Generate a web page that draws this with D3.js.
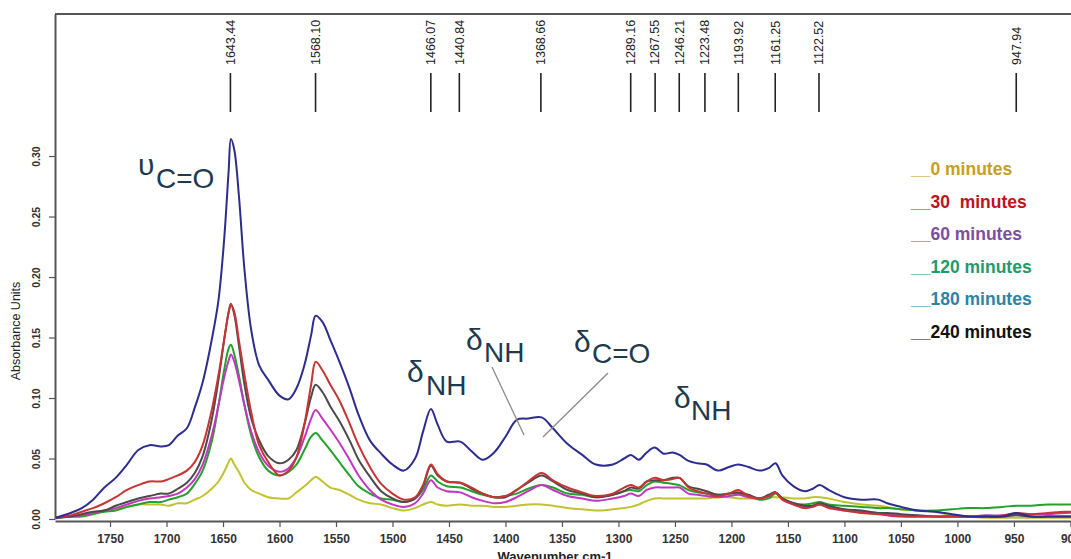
<!DOCTYPE html>
<html>
<head>
<meta charset="utf-8">
<script src="https://cdn.jsdelivr.net/npm/d3@7"></script>
<style>
  body { margin: 0; background: #fff; }
  svg { display: block; font-family: "Liberation Sans", Arial, sans-serif; }
</style>
</head>
<body>
<div id="chart"></div>
<script>
// wavenumber grid (cm-1) shared by every spectrum
var wavenumbers = [1798,1785,1775,1765,1755,1745,1735,1725,1715,1705,1698,1690,1682,1675,1668,1660,1654,1649,1645,1643,1640,1636,1631,1625,1618,1610,1600,1592,1585,1578,1572,1568,1562,1555,1547,1538,1530,1520,1510,1500,1490,1480,1473,1466,1460,1452,1440,1430,1420,1410,1400,1390,1380,1368,1358,1345,1332,1320,1305,1295,1289,1282,1275,1268,1260,1252,1246,1238,1230,1222,1212,1202,1194,1185,1175,1167,1161,1155,1145,1135,1128,1122,1114,1100,1085,1070,1062,1050,1035,1020,1005,990,975,960,948,935,920,905,890];

var blueVals = [0.001,0.005,0.009,0.016,0.026,0.034,0.045,0.057,0.061,0.060,0.061,0.069,0.075,0.092,0.113,0.148,0.181,0.231,0.288,0.314,0.305,0.268,0.206,0.156,0.127,0.115,0.102,0.099,0.108,0.127,0.152,0.168,0.163,0.148,0.130,0.108,0.086,0.065,0.054,0.045,0.040,0.050,0.072,0.091,0.078,0.064,0.064,0.056,0.049,0.055,0.068,0.082,0.083,0.084,0.075,0.062,0.053,0.045,0.045,0.050,0.053,0.049,0.055,0.059,0.054,0.055,0.053,0.048,0.046,0.045,0.040,0.043,0.045,0.043,0.040,0.042,0.046,0.036,0.027,0.023,0.025,0.028,0.024,0.018,0.016,0.016,0.013,0.010,0.007,0.006,0.004,0.002,0.002,0.002,0.005,0.002,0.002,0.002,0.002];
var redVals = [0.001,0.003,0.006,0.009,0.013,0.018,0.024,0.028,0.031,0.031,0.033,0.036,0.040,0.047,0.061,0.090,0.119,0.148,0.171,0.177,0.171,0.148,0.119,0.088,0.061,0.047,0.036,0.040,0.051,0.078,0.111,0.130,0.123,0.111,0.098,0.079,0.061,0.043,0.029,0.021,0.016,0.018,0.028,0.045,0.037,0.031,0.030,0.026,0.021,0.018,0.019,0.024,0.031,0.038,0.032,0.026,0.022,0.019,0.021,0.026,0.028,0.026,0.031,0.034,0.032,0.033,0.034,0.026,0.023,0.021,0.019,0.021,0.024,0.019,0.017,0.019,0.022,0.016,0.012,0.009,0.010,0.012,0.009,0.007,0.005,0.004,0.003,0.002,0.002,0.002,0.002,0.002,0.002,0.003,0.005,0.004,0.005,0.006,0.006];
var grayVals = [0.001,0.002,0.004,0.006,0.007,0.011,0.014,0.017,0.019,0.021,0.021,0.025,0.030,0.038,0.052,0.082,0.115,0.148,0.171,0.178,0.169,0.144,0.111,0.083,0.065,0.052,0.046,0.049,0.057,0.078,0.101,0.111,0.105,0.093,0.081,0.065,0.049,0.035,0.023,0.017,0.014,0.017,0.027,0.044,0.036,0.031,0.030,0.025,0.021,0.018,0.018,0.024,0.030,0.036,0.031,0.024,0.021,0.018,0.020,0.023,0.026,0.025,0.031,0.032,0.032,0.034,0.034,0.027,0.025,0.023,0.020,0.021,0.022,0.020,0.017,0.020,0.022,0.017,0.013,0.011,0.011,0.013,0.011,0.008,0.007,0.005,0.005,0.004,0.003,0.002,0.002,0.002,0.002,0.002,0.003,0.002,0.002,0.002,0.002];
var magentaVals = [0.001,0.002,0.003,0.005,0.007,0.009,0.012,0.015,0.017,0.018,0.019,0.021,0.026,0.033,0.045,0.069,0.094,0.117,0.131,0.136,0.130,0.115,0.094,0.072,0.055,0.044,0.039,0.042,0.051,0.067,0.083,0.090,0.083,0.074,0.063,0.049,0.036,0.024,0.016,0.012,0.010,0.013,0.021,0.032,0.026,0.023,0.022,0.018,0.015,0.013,0.014,0.018,0.023,0.028,0.024,0.019,0.017,0.015,0.017,0.019,0.021,0.019,0.024,0.026,0.026,0.026,0.026,0.021,0.020,0.019,0.018,0.019,0.020,0.018,0.017,0.019,0.022,0.017,0.012,0.010,0.011,0.012,0.010,0.007,0.006,0.005,0.004,0.003,0.002,0.002,0.002,0.002,0.003,0.003,0.004,0.004,0.004,0.005,0.005];
var greenVals = [0.001,0.002,0.002,0.004,0.006,0.007,0.010,0.012,0.014,0.014,0.016,0.018,0.021,0.029,0.040,0.064,0.094,0.123,0.141,0.144,0.136,0.119,0.094,0.069,0.051,0.040,0.036,0.039,0.045,0.057,0.068,0.071,0.065,0.057,0.047,0.036,0.027,0.021,0.017,0.016,0.014,0.017,0.024,0.036,0.031,0.027,0.026,0.023,0.020,0.018,0.019,0.021,0.025,0.028,0.026,0.021,0.020,0.018,0.020,0.023,0.024,0.023,0.028,0.031,0.030,0.029,0.028,0.024,0.022,0.021,0.020,0.021,0.021,0.019,0.016,0.017,0.021,0.017,0.013,0.012,0.013,0.014,0.012,0.011,0.010,0.009,0.009,0.008,0.007,0.007,0.008,0.009,0.009,0.010,0.011,0.011,0.012,0.012,0.012];
var yellowVals = [0.001,0.002,0.003,0.005,0.007,0.008,0.010,0.012,0.012,0.012,0.011,0.013,0.013,0.016,0.019,0.025,0.031,0.039,0.047,0.050,0.045,0.039,0.030,0.024,0.021,0.018,0.017,0.017,0.022,0.027,0.032,0.035,0.031,0.026,0.024,0.020,0.016,0.013,0.012,0.009,0.007,0.009,0.012,0.014,0.012,0.011,0.012,0.011,0.011,0.010,0.010,0.011,0.012,0.012,0.011,0.009,0.008,0.007,0.008,0.009,0.010,0.012,0.015,0.017,0.017,0.017,0.017,0.017,0.017,0.017,0.018,0.018,0.017,0.017,0.017,0.018,0.018,0.018,0.017,0.017,0.018,0.018,0.017,0.014,0.012,0.011,0.010,0.008,0.007,0.006,0.003,0.002,0.001,0.001,0.001,0.001,0.001,0.001,0.001];

var seriesColors = ["#c2c22e", "#22a22a", "#c236c2", "#4a4a4a", "#c83434", "#2d2d8e"];
var seriesVals = [yellowVals, greenVals, magentaVals, grayVals, redVals, blueVals];

var legendLabels = ["__0 minutes", "__30  minutes", "__60 minutes", "__120 minutes", "__180 minutes", "__240 minutes"];
var legendColors = ["#c4a024", "#c0121e", "#7d4f9e", "#1f9a6a", "#2a84a6", "#111111"];

var peakLabels = ["1643.44","1568.10","1466.07","1440.84","1368.66","1289.16","1267.55","1246.21","1223.48","1193.92","1161.25","1122.52","947.94"];
var xTicks = [1750,1700,1650,1600,1550,1500,1450,1400,1350,1300,1250,1200,1150,1100,1050,1000,950,900];
var yTicks = [0, 0.05, 0.10, 0.15, 0.20, 0.25, 0.30];

var W = 1071, H = 559;
var plotL = 55, plotT = 14, plotB = 519, plotR = 1093;

var svg = d3.select("#chart").append("svg")
    .attr("width", W)
    .attr("height", H);

var x = d3.scaleLinear().domain([1798.7, 880]).range([plotL, plotR]);
var y = d3.scaleLinear().domain([0, 0.4174]).range([plotB, plotT]);

svg.append("clipPath").attr("id", "plotclip")
  .append("rect").attr("x", plotL).attr("y", plotT)
  .attr("width", plotR - plotL).attr("height", plotB - plotT);

// frame top
svg.append("line").attr("x1", plotL).attr("x2", plotR).attr("y1", plotT).attr("y2", plotT)
  .attr("stroke", "#555").attr("stroke-width", 2);

// x axis
var xAxis = svg.append("g")
  .attr("transform", "translate(0," + (plotB + 2) + ")")
  .call(d3.axisBottom(x).tickValues(xTicks).tickSize(6).tickSizeOuter(0).tickFormat(d3.format("d")));
xAxis.select(".domain").attr("stroke", "#555").attr("stroke-width", 2.2);
xAxis.selectAll(".tick line").attr("stroke", "#555").attr("stroke-width", 1.2);
xAxis.selectAll("text").attr("font-size", 12).attr("font-weight", "bold")
  .attr("fill", "#333").attr("y", 13);

// y axis
var yAxis = svg.append("g")
  .attr("transform", "translate(" + plotL + ",0)")
  .call(d3.axisLeft(y).tickValues(yTicks).tickSize(6).tickSizeOuter(0).tickFormat(d3.format(".2f")));
yAxis.select(".domain").attr("stroke", "#555").attr("stroke-width", 2);
yAxis.selectAll(".tick line").attr("stroke", "#555").attr("stroke-width", 1.2);
yAxis.selectAll(".tick text")
  .attr("x", null).attr("dy", null)
  .attr("transform", "translate(-15,0) rotate(-90)")
  .attr("text-anchor", "middle")
  .attr("font-size", 10.5).attr("font-weight", "bold").attr("fill", "#333");

svg.append("text")
  .attr("transform", "translate(20,331) rotate(-90)")
  .attr("text-anchor", "middle")
  .attr("font-size", 12.5).attr("fill", "#222")
  .text("Absorbance Units");

svg.append("text")
  .attr("x", 555).attr("y", 561)
  .attr("text-anchor", "middle")
  .attr("font-size", 13).attr("font-weight", "bold").attr("fill", "#222")
  .text("Wavenumber cm-1");

// peak markers along the top
var peaks = svg.append("g");
peakLabels.forEach(function(p) {
  var px = x(parseFloat(p));
  peaks.append("text")
    .attr("transform", "translate(" + px + ",65) rotate(-90)")
    .attr("dy", "0.35em")
    .attr("font-size", 12.5).attr("fill", "#222")
    .text(p);
  peaks.append("line")
    .attr("x1", px).attr("x2", px).attr("y1", 73).attr("y2", 112)
    .attr("stroke", "#222").attr("stroke-width", 1.6);
});

// spectra
var line = d3.line()
  .x(function(d) { return x(d[0]); })
  .y(function(d) { return y(d[1]); })
  .curve(d3.curveCatmullRom.alpha(0.5));

var curves = svg.append("g").attr("clip-path", "url(#plotclip)");
seriesVals.forEach(function(vals, i) {
  var pts = wavenumbers.map(function(w, j) { return [w, vals[j]]; });
  curves.append("path")
    .attr("d", line(pts))
    .attr("fill", "none")
    .attr("stroke", seriesColors[i])
    .attr("stroke-width", 2)
    .attr("stroke-linejoin", "round");
});

// legend
legendLabels.forEach(function(t, i) {
  svg.append("text")
    .attr("x", 911).attr("y", 175 + i * 32.6)
    .attr("font-size", 17.5).attr("font-weight", "bold")
    .attr("fill", legendColors[i])
    .style("white-space", "pre")
    .text(t);
});

// band annotations
var annColor = "#1d3a4e";
function band(sym, sub, sx, sy, subx, suby) {
  var g = svg.append("text").attr("fill", annColor);
  g.append("tspan").attr("x", sx).attr("y", sy).attr("font-size", 30).text(sym);
  g.append("tspan").attr("x", subx).attr("y", suby).attr("font-size", 28).text(sub);
}
band("\u03c5", "C=O", 138, 175, 156, 188);
band("\u03b4", "NH", 407, 382, 426, 395);
band("\u03b4", "NH", 466, 350, 484, 362);
band("\u03b4", "C=O", 574, 352, 592, 363);
band("\u03b4", "NH", 674, 408, 691, 420);

svg.append("line").attr("x1", 492).attr("y1", 367).attr("x2", 524).attr("y2", 435)
  .attr("stroke", "#8a8a8a").attr("stroke-width", 1.3);
svg.append("line").attr("x1", 608).attr("y1", 373).attr("x2", 543).attr("y2", 437)
  .attr("stroke", "#8a8a8a").attr("stroke-width", 1.3);
</script>
</body>
</html>
